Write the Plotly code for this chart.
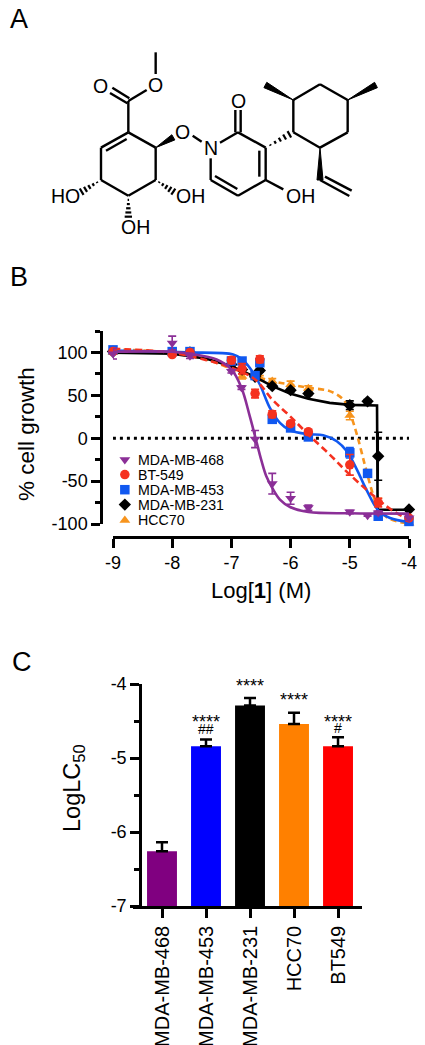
import plotly.graph_objects as go

W, H = 425, 1045
FONT = "Liberation Sans"

# ---------- Panel B data ----------
CONC = [-9, -8, -7.7, -7, -6.82, -6.6, -6.52, -6.31, -6, -5.7, -5, -4.7, -4.52, -4]
S468_X = [-9, -8, -7.7, -7, -6.83, -6.6, -6.31, -6, -5.7, -5, -4.7, -4.52, -4]
S468_Y = [98.4, 111, 96, 78, 59, -1, -53, -70, -81, -86, -90, -87, -93]
S468_E = [6, 8, 3, 2, 2, 10, 12, 7, 3, 2, 1, 2, 3]
S549 = [101, 97.5, 100, 91, 81, 52, 92, 28, 17, 7.5, -31, None, -75, -93]
S549_E = [3, 2, 2, 4, 6, 5, 4, 4, 2, 3, 12, 0, 5, 3]
S453 = [103, 101, 101, 90, 90, 73, 88, 22, 12, 1.5, -17, -41, -91, -97]
S453_E = [3, 2, 2, 3, 3, 4, 3, 4, 2, 2, 6, 2, 3, 2]
S231 = [101, 99.6, 100, 86, 80, 71.6, 79, 60.7, 56, 52, 38.5, 43, -21, -83]
S231_E = [2, 2, 2, 2, 2, 2, 2, 2, 2, 2, 5, 2, 28, 2]
S70 = [100, 99, 99, 88, 72, None, 70, 66.5, 62.6, 58, 26.5, None, -73, -99]
S70_E = [2, 2, 2, 3, 3, 0, 3, 3, 4, 3, 5, 0, 3, 2]

# fitted curves
C468_X = [-9, -8, -7.7, -7.25, -7, -6.83, -6.69, -6.6, -6.49, -6.41, -6.31, -6.18, -6.01, -5.7, -5, -4]
C468_Y = [100.8, 100.8, 98.4, 91.8, 80.2, 58.8, 25.7, 2.3, -26.8, -44.4, -58, -71.6, -80.2, -86, -87.5, -87.9]
C453_X = [-9, -8, -7.7, -6.97, -6.83, -6.69, -6.52, -6.35, -6.18, -6.01, -5.7, -5.45, -5.22, -5.05, -4.88, -4.72, -4.52, -4.32, -4]
C453_Y = [102.3, 100.8, 100, 97.7, 92.6, 82.1, 62.6, 35.4, 17.9, 9.3, 4.7, 3.5, -3.5, -15.2, -36.6, -59.9, -84, -93, -97.7]
C549_X = [-9, -8, -7.42, -7, -6.6, -6.31, -6.01, -5.7, -5.34, -5, -4.52, -4.26, -4]
C549_Y = [104.3, 99.6, 91, 82.1, 68.5, 45.1, 25.7, 4.3, -19, -42.4, -71.6, -85.2, -94.9]
C231_X = [-9, -8, -7.42, -7, -6.6, -6.31, -6.01, -5.7, -5.34, -5, -4.54, -4.535, -4.53, -4]
C231_Y = [99.6, 98.4, 92.6, 84, 71.6, 60.7, 52.1, 45.9, 41.2, 38.9, 38.1, -30, -83.3, -83.3]
C70_X = [-9, -8, -7.42, -6.97, -6.6, -6.31, -6.01, -5.7, -5.34, -5.11, -5, -4.88, -4.74, -4.6, -4.52, -4.32, -4]
C70_Y = [103.5, 99.6, 91.8, 80.2, 72.4, 66.5, 62.6, 58.8, 54.9, 45.1, 29.6, 4.3, -32.7, -67.7, -83.3, -94.2, -99.6]

SERIES_NAMES = ["HCC70", "MDA-MB-231", "MDA-MB-453", "BT-549", "MDA-MB-468"]
LEGEND_ORDER = ["MDA-MB-468", "BT-549", "MDA-MB-453", "MDA-MB-231", "HCC70"]
LEGEND_Y = [-25, -42.4, -60, -77.4, -95.7]
B_XTICKS = [-9, -8, -7, -6, -5, -4]
B_XTEXT = ["-9", "-8", "-7", "-6", "-5", "-4"]
B_YTICKS = [100, 50, 0, -50, -100]
B_YTEXT = ["100", "50", "0", "-50", "-100"]
B_YMINOR = [125, 75, 25, -25, -75]

# ---------- Panel C data ----------
CELLS = ["MDA-MB-468", "MDA-MB-453", "MDA-MB-231", "HCC70", "BT549"]
LOGLC50 = [-6.26, -4.84, -4.29, -4.54, -4.84]
LOGLC50_ERR = [0.12, 0.09, 0.10, 0.15, 0.12]
STARS = ["", "****", "****", "****", "****"]
HASHES = ["", "##", "", "", "#"]
STAR_PX = [0, 722, 686, 700, 722]
HASH_PX = [0, 729, 0, 0, 728]
C_YTICKS = [-4, -5, -6, -7]
C_YTEXT = ["-4", "-5", "-6", "-7"]
C_YMINOR = [-4.5, -5.5, -6.5]

# ---------- Panel A structure (drawing units) ----------
BONDS = [
    (467, 157, 467, 222), (440, 270, 385, 303), (388, 295, 337, 263), (382, 310, 330, 279),
    (385, 303, 385, 397), (385, 397, 303, 443), (380, 417, 318, 452), (303, 443, 303, 540),
    (303, 540, 385, 587), (385, 587, 467, 540), (467, 540, 467, 443), (467, 443, 385, 397),
    (578, 407, 605, 425), (660, 428, 714, 397), (706, 397, 706, 330), (722, 397, 722, 330),
    (714, 397, 797, 443), (797, 443, 797, 540), (778, 452, 778, 530), (797, 540, 714, 587),
    (714, 587, 632, 540), (712, 567, 645, 528), (632, 540, 632, 475), (797, 540, 850, 568),
    (880, 397, 880, 300), (880, 300, 960, 253), (960, 253, 1043, 300), (1043, 300, 1043, 397),
    (1043, 397, 960, 443), (960, 443, 880, 397), (960, 540, 1048, 588), (975, 530, 1055, 572),
]
WEDGES = [
    (467, 443, 520, 412), (880, 300, 796, 255), (1043, 300, 1128, 255), (960, 443, 960, 540),
]
HASH_BONDS = [
    (797, 443, 868, 403), (303, 540, 245, 575), (467, 540, 520, 575), (385, 587, 385, 650),
]
ATOMS = [
    ("O", 302, 257), ("O", 467, 255), ("O", 548, 397), ("N", 632, 443), ("O", 714, 303),
    ("HO", 197, 587), ("OH", 572, 587), ("OH", 407, 682), ("OH", 900, 587),
]

COL = {"MDA-MB-468": "#8b2f97", "BT-549": "#f5311f", "MDA-MB-453": "#1058f0",
       "MDA-MB-231": "#000000", "HCC70": "#f7941d"}
SYM = {"MDA-MB-468": "triangle-down", "BT-549": "circle", "MDA-MB-453": "square",
       "MDA-MB-231": "diamond", "HCC70": "triangle-up"}
BAR_COL = ["#800080", "#0000ff", "#000000", "#ff8000", "#ff0000"]


def px(v):
    return v / W


def py(v):
    return 1 - v / H


fig = go.Figure()

# --- structure
bx, by = [], []
for a, b, c, d in BONDS:
    bx += [a, c, None]
    by += [b, d, None]
fig.add_trace(go.Scatter(x=bx, y=by, mode="lines", line=dict(color="black", width=2.4),
                         xaxis="x3", yaxis="y3", showlegend=False, hoverinfo="skip"))
for a, b, c, d in WEDGES:
    dx, dy = c - a, d - b
    n = (dx * dx + dy * dy) ** 0.5
    ux, uy = -dy / n * 9, dx / n * 9
    fig.add_trace(go.Scatter(x=[a, c + ux, c - ux, a], y=[b, d + uy, d - uy, b], mode="lines",
                             fill="toself", fillcolor="black", line=dict(color="black", width=1),
                             xaxis="x3", yaxis="y3", showlegend=False, hoverinfo="skip"))
hx, hy = [], []
for a, b, c, d in HASH_BONDS:
    dx, dy = c - a, d - b
    n = (dx * dx + dy * dy) ** 0.5
    for k in range(1, 6):
        t = k / 5
        mx, my = a + dx * t, b + dy * t
        hw = 11 * t
        ux, uy = -dy / n * hw, dx / n * hw
        hx += [mx + ux, mx - ux, None]
        hy += [my + uy, my - uy, None]
fig.add_trace(go.Scatter(x=hx, y=hy, mode="lines", line=dict(color="black", width=2.2),
                         xaxis="x3", yaxis="y3", showlegend=False, hoverinfo="skip"))

# --- panel B
fig.add_trace(go.Scatter(x=[-9.12, -4], y=[0, 0], mode="lines",
                         line=dict(color="black", width=3, dash="3px,4px"),
                         cliponaxis=False, showlegend=False, hoverinfo="skip"))

pts = {
    "HCC70": (CONC, S70, S70_E, C70_X, C70_Y, "6px,4px"),
    "MDA-MB-231": (CONC, S231, S231_E, C231_X, C231_Y, "solid"),
    "MDA-MB-453": (CONC, S453, S453_E, C453_X, C453_Y, "solid"),
    "BT-549": (CONC, S549, S549_E, C549_X, C549_Y, "7px,4px"),
    "MDA-MB-468": (S468_X, S468_Y, S468_E, C468_X, C468_Y, "solid"),
}
for name in SERIES_NAMES:
    x, y, e, cx, cy, dash = pts[name]
    c = COL[name]
    fig.add_trace(go.Scatter(x=x, y=y, mode="markers", name=name,
                             marker=dict(symbol=SYM[name], size=9.5, color=c, line=dict(width=0)),
                             error_y=dict(type="data", array=e, color=c, thickness=1.6, width=4),
                             cliponaxis=False, showlegend=False))
    shape = "linear" if name == "MDA-MB-231" else "spline"
    fig.add_trace(go.Scatter(x=cx, y=cy, mode="lines",
                             line=dict(color=c, width=2.6, dash=dash, shape=shape),
                             cliponaxis=False, showlegend=False, hoverinfo="skip"))

for name, ly in zip(LEGEND_ORDER, LEGEND_Y):
    fig.add_trace(go.Scatter(x=[-8.8], y=[ly], mode="markers", name=name,
                             marker=dict(symbol=SYM[name], size=9.5, color=COL[name], line=dict(width=0)),
                             cliponaxis=False, showlegend=False, hoverinfo="skip"))

# --- panel C
FLOOR = C_YTICKS[-1]
fig.add_trace(go.Bar(x=CELLS, y=[v - FLOOR for v in LOGLC50], base=FLOOR, width=0.68,
                     marker=dict(color=BAR_COL, line=dict(width=0)),
                     error_y=dict(type="data", symmetric=False, array=LOGLC50_ERR, arrayminus=[0] * 5,
                                  color="black", thickness=2.5, width=6),
                     xaxis="x2", yaxis="y2", showlegend=False))


def center(**kw):
    return dict(showarrow=False, xanchor="center", yanchor="middle", **kw)


ann = []
for name, ly in zip(LEGEND_ORDER, LEGEND_Y):
    ann.append(dict(x=-8.62, y=ly, xref="x", yref="y", text=name, showarrow=False, xanchor="left",
                    yanchor="middle", font=dict(size=14.2, color="black", family=FONT)))
for t, a, b in ATOMS:
    ann.append(center(x=a, y=b, xref="x3", yref="y3", text=t,
                      font=dict(size=19.5, color="black", family=FONT)))
for i, (cat, s, sp, h, hp) in enumerate(zip(CELLS, STARS, STAR_PX, HASHES, HASH_PX)):
    if s:
        ann.append(center(x=i, y=py(sp), xref="x2", yref="paper", text=s,
                          font=dict(size=18, color="black", family=FONT)))
    if h:
        ann.append(center(x=i, y=py(hp), xref="x2", yref="paper", text=h,
                          font=dict(size=14, color="black", family=FONT)))
for t, a, b in [("A", 19, 19), ("B", 19, 277), ("C", 22, 662)]:
    ann.append(center(x=px(a), y=py(b), xref="paper", yref="paper", text=t,
                      font=dict(size=27, color="black", family=FONT)))
ann.append(center(x=px(26), y=py(434), xref="paper", yref="paper", text="% cell growth", textangle=-90,
                  font=dict(size=22.5, color="black", family=FONT)))
ann.append(center(x=px(261), y=py(590), xref="paper", yref="paper", text="Log[<b>1</b>] (M)",
                  font=dict(size=22, color="black", family=FONT)))
ann.append(center(x=px(73), y=py(788), xref="paper", yref="paper", text="LogLC<sub>50</sub>", textangle=-90,
                  font=dict(size=23.5, color="black", family=FONT)))

tick = dict(family=FONT, size=18, color="black")
axis_common = dict(showgrid=False, zeroline=False, showline=True, linecolor="black", linewidth=2.5,
                   ticks="outside", tickcolor="black", tickwidth=2.5, ticklen=9, tickfont=tick)

fig.update_layout(
    width=W, height=H, autosize=False, margin=dict(l=0, r=0, t=0, b=0, pad=0, autoexpand=False),
    paper_bgcolor="white", plot_bgcolor="rgba(0,0,0,0)", showlegend=False, annotations=ann,
    bargap=0.3,
    xaxis=dict(domain=[px(113), px(409)], range=[-9, -4], anchor="free", position=py(537),
               tickmode="array", tickvals=B_XTICKS, ticktext=B_XTEXT, **axis_common),
    yaxis=dict(domain=[py(524), py(331)], range=[-100, 125], anchor="free", position=px(101),
               tickmode="array", tickvals=B_YTICKS, ticktext=B_YTEXT,
               minor=dict(tickmode="array", tickvals=B_YMINOR, ticks="outside", ticklen=5,
                          tickwidth=2.5, tickcolor="black"), **axis_common),
    xaxis2=dict(domain=[px(133), px(362)], type="category", categoryorder="array", categoryarray=CELLS,
                range=[-0.659, 4.545], anchor="y2", tickangle=-90,
                **{**axis_common, "tickfont": dict(family=FONT, size=20, color="black")}),
    yaxis2=dict(domain=[py(906), py(684)], range=[-7, -4], anchor="free", position=px(140),
                tickmode="array", tickvals=C_YTICKS, ticktext=C_YTEXT,
                minor=dict(tickmode="array", tickvals=C_YMINOR, ticks="outside", ticklen=5,
                           tickwidth=2.5, tickcolor="black"), **axis_common),
    xaxis3=dict(domain=[0, 1], range=[0, 1275], visible=False, anchor="y3"),
    yaxis3=dict(domain=[py(280), 1], range=[840, 0], visible=False, anchor="x3"),
)

fig.write_html("out.html", config={"displayModeBar": False},
               post_script="document.body.style.margin='0';document.body.style.overflow='hidden';")
